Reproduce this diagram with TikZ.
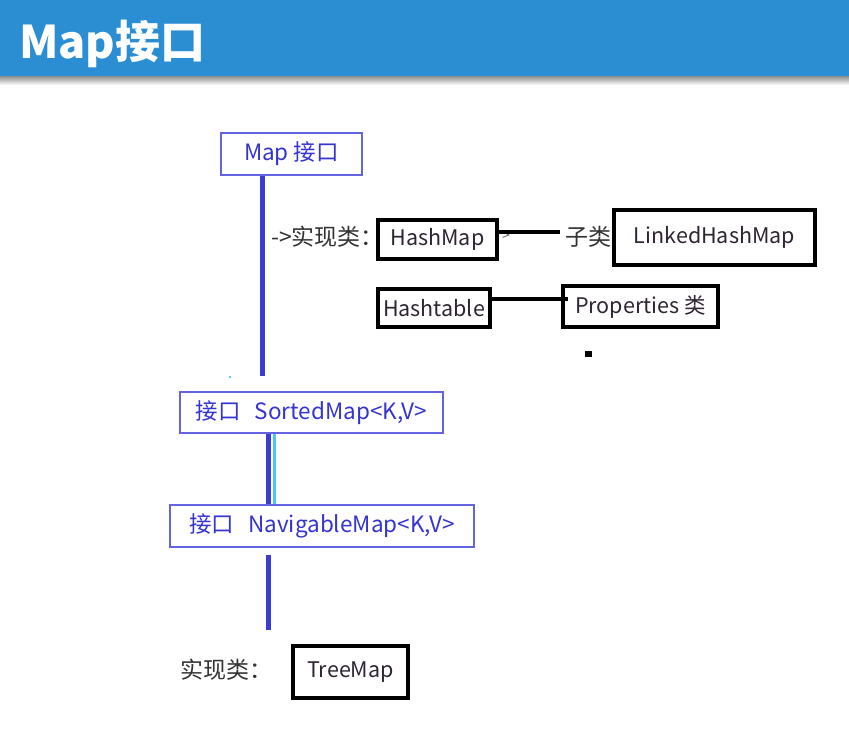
\documentclass[tikz,border=0pt]{standalone}
\usepackage{fontspec}
\setmainfont{Noto Sans CJK SC}
\definecolor{headblue}{HTML}{2B8ED3}
\definecolor{ifaceblue}{HTML}{6464E2}
\definecolor{linkblue}{HTML}{3C3CD2}
\definecolor{textblue}{HTML}{3434D0}
\definecolor{textdark}{HTML}{2E2434}
\tikzset{
  ifacebox/.style={draw=ifaceblue, line width=1.6pt, fill=white, inner sep=0pt,
    text=textblue, font=\fontsize{22.5}{26}\selectfont},
  classbox/.style={draw=black, line width=4pt, fill=white, inner sep=0pt,
    text=textdark, font=\fontsize{21.5}{24}\selectfont},
  plain/.style={inner sep=0pt, text=black!80, font=\fontsize{23}{27}\selectfont},
  trunk/.style={draw=linkblue, line width=5pt},
  echo/.style={draw=cyan!70!white, line width=3pt},
  branch/.style={draw=black, line width=4pt}
}
\begin{document}
\begin{tikzpicture}[x=1pt,y=-1pt]
\useasboundingbox (0,0) rectangle (849,729);
\fill[white] (0,0) rectangle (849,729);
% header band with its soft shadow
\shade[top color=black!45, bottom color=white] (0,76) rectangle (849,85);
\fill[headblue] (0,0) rectangle (849,76);
\node[anchor=base west, inner sep=0pt, text=white, font=\fontsize{45}{50}\selectfont\bfseries]
  (title) at (19,58) {Map接口};

% interfaces
\node[ifacebox, minimum width=141pt, minimum height=42pt] (map) at (291.5,154) {Map 接口};
\node[ifacebox, minimum width=263pt, minimum height=41pt] (sorted) at (311.5,412.5)
  {接口\hspace{14pt}SortedMap<K,V>};
\node[ifacebox, minimum width=304pt, minimum height=42pt] (navig) at (322,526)
  {接口\hspace{14pt}NavigableMap<K,V>};

% implementing classes (the label sits under the HashMap box edge)
\node[plain, anchor=east] (implA) at (384,237) {->实现类：};
\node[classbox, minimum width=119pt, minimum height=39pt] (hashmap) at (437.5,239.5) {HashMap};
\node[inner sep=0pt, text=black!60, font=\fontsize{14}{15}\selectfont] (gt) at (506,236) {>};
\node[plain] (sub) at (588,237) {子类};
\node[classbox, minimum width=201pt, minimum height=55pt] (linked) at (714.5,237.5) {LinkedHashMap};
\node[classbox, minimum width=112pt, minimum height=38pt] (hashtable) at (434,308) {Hashtable};
\node[classbox, minimum width=155pt, minimum height=41pt] (props) at (640.5,306.5) {Properties 类};
\node[plain] (implB) at (226,670) {实现类：};
\node[classbox, minimum width=115pt, minimum height=52pt] (tree) at (350.5,672) {TreeMap};

% free ends of the connectors
\coordinate (mapEnd) at (262,376);
\coordinate (hmEnd) at (560,232);
\coordinate (htEnd) at (568,299);
\coordinate (navTop) at (268,555);
\coordinate (navEnd) at (268,630);

% connectors
\draw[trunk] (map.south -| mapEnd) -- (mapEnd);
\draw[echo] (sorted.south -| 274,0) -- (navig.north -| 274,0);
\draw[trunk] (sorted.south -| 268,0) -- (navig.north -| 268,0);
\draw[trunk] (navTop) -- (navEnd);
\draw[branch] (hashmap.east |- hmEnd) -- (hmEnd);
\draw[branch] (hashtable.east |- htEnd) -- (htEnd);

% stray marks
\fill[black] (585,351) rectangle (592,357);
\fill[cyan!60] (229,376) rectangle (231,378);
\end{tikzpicture}
\end{document}
